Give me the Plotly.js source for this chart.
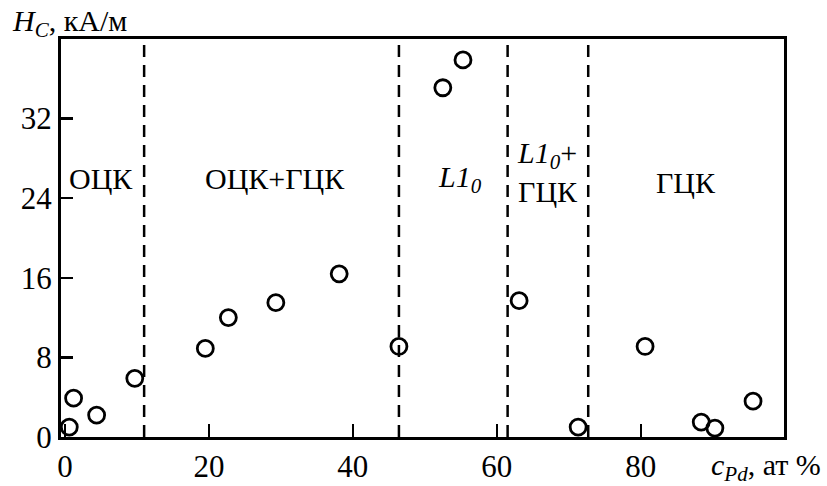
<!DOCTYPE html>
<html>
<head>
<meta charset="utf-8">
<script src="https://cdn.plot.ly/plotly-3.0.1.min.js"></script>
<style>html,body{margin:0;padding:0;background:#fff;}#chart{width:827px;height:486px;}</style>
</head>
<body>
<div id="chart"></div>
<script>
// Pd concentration, at.%
var cPd = [0.6, 1.2, 4.4, 9.7, 19.5, 22.7, 29.3, 38.1, 46.4, 52.5, 55.3, 63.1, 71.3, 80.6, 88.4, 90.3, 95.6];
// Coercive force Hc, kA/m
var Hc = [1.0, 3.9, 2.2, 5.9, 8.9, 12.0, 13.5, 16.4, 9.1, 35.1, 37.9, 13.7, 1.0, 9.1, 1.5, 0.9, 3.6];
// Phase boundaries (at.% Pd)
var boundaries = [11, 46.4, 61.5, 72.7];
// Phase region labels
var regionText = ['ОЦК', 'ОЦК+ГЦК', '<i>L1</i><sub><i>0</i></sub>', '<i>L1</i><sub><i>0</i></sub>+<br>ГЦК', 'ГЦК'];
var regionX = [5.0, 29.2, 54.9, 67.1, 86.3];
var regionY = [26.0, 26.0, 25.9, 26.6, 25.6];
var xTicks = [0, 20, 40, 60, 80];
var yTicks = [0, 8, 16, 24, 32];

var FONT = 'Liberation Serif, DejaVu Serif Condensed, DejaVu Serif, serif';

var shapes = boundaries.map(function (b) {
  return {type: 'line', xref: 'x', yref: 'paper', x0: b, x1: b, y0: 0, y1: 1,
          line: {color: '#000', width: 2.5, dash: '12px,8px'}};
});

var annotations = regionText.map(function (t, i) {
  return {x: regionX[i], y: regionY[i], xref: 'x', yref: 'y', text: t, showarrow: false,
          font: {family: FONT, size: 30, color: '#000'}, xanchor: 'center', yanchor: 'middle'};
});
annotations.push({xref: 'paper', yref: 'paper', x: -0.07, y: 1.04, xanchor: 'left', yanchor: 'middle',
  text: '<i>H</i><sub><i>C</i></sub>, кА/м', showarrow: false, font: {family: FONT, size: 30, color: '#000'}});
annotations.push({xref: 'paper', yref: 'paper', x: 1.054, y: -0.075, xanchor: 'right', yanchor: 'middle',
  text: '<i>c</i><sub><i>Pd</i></sub>, ат %', showarrow: false, font: {family: FONT, size: 30, color: '#000'}});

var trace = {
  x: cPd, y: Hc, type: 'scatter', mode: 'markers',
  marker: {symbol: 'circle-open', size: 16, color: '#000', line: {color: '#000', width: 2.8}}
};

var layout = {
  width: 827, height: 486,
  margin: {l: 61, r: 43, t: 39, b: 48.5},
  showlegend: false,
  font: {family: FONT, size: 31, color: '#000'},
  xaxis: {
    range: [-0.55, 99.9], tickvals: xTicks,
    ticks: 'inside', ticklen: 13, tickwidth: 2.5, tickcolor: '#000',
    showline: true, linewidth: 3, linecolor: '#000', mirror: true,
    showgrid: false, zeroline: false
  },
  yaxis: {
    range: [0, 40], tickvals: yTicks,
    ticks: 'inside', ticklen: 12, tickwidth: 2.5, tickcolor: '#000',
    showline: true, linewidth: 3, linecolor: '#000', mirror: true,
    showgrid: false, zeroline: false
  },
  shapes: shapes,
  annotations: annotations
};

Plotly.newPlot('chart', [trace], layout, {staticPlot: true});
</script>
</body>
</html>
